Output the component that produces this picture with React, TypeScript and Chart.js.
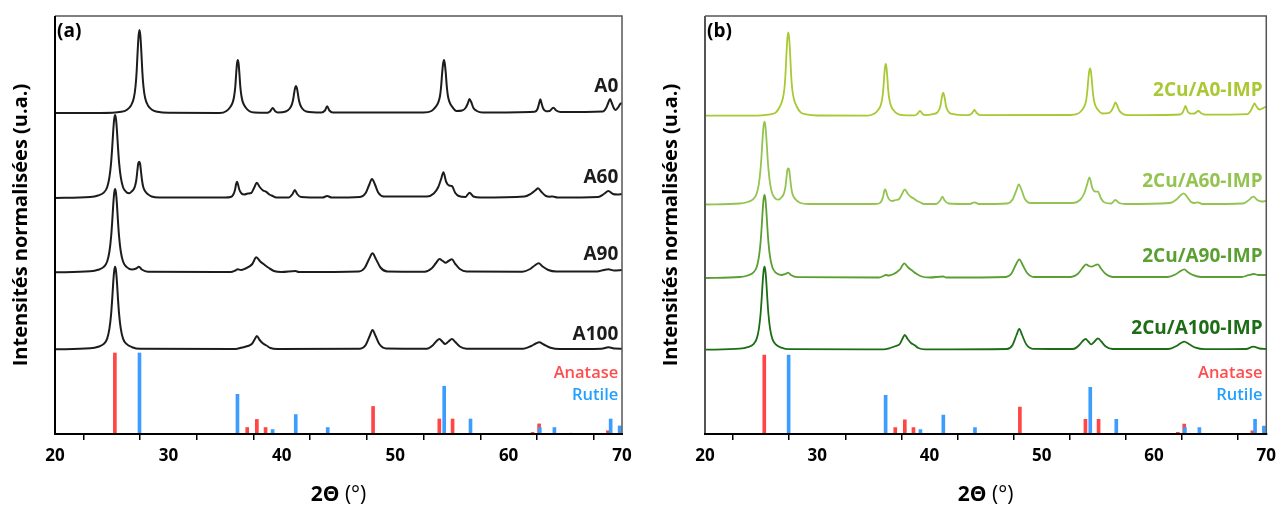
import React, { useEffect, useRef } from "react";
import { Chart, registerables } from "chart.js";

Chart.register(...registerables);

const FONT = "'Open Sans', 'DejaVu Sans', sans-serif";

// ---------- axes ----------
const X_MIN = 20;
const X_MAX = 70;
const X_STEP = 5;
const Y_MAX = 418;
const X_TICK_LABEL_EVERY = 10;

// ---------- reference patterns (2θ, relative intensity %) ----------
const ANATASE_REF = [
  [25.28, 100], [36.95, 8], [37.8, 18], [38.57, 8], [48.05, 34],
  [53.89, 18.5], [55.06, 18.5], [62.12, 2], [62.69, 12.5], [68.76, 4],
];
const RUTILE_REF = [
  [27.45, 100], [36.09, 49], [39.19, 5.5], [41.23, 24], [44.05, 8],
  [54.32, 59], [56.64, 18.5], [62.75, 8], [64.04, 8], [65.48, 1],
  [69.0, 18.5], [69.79, 10],
];
const STICK_MAX_A = 81;
const STICK_MAX_B = 79;

// ---------- panel (a) curves: [2θ, stacked intensity] ----------
const A0 = [
  [20, 321], [24, 321], [25.85, 322.2], [26.35, 324.3], [26.7, 328.5], [26.95, 336], [27.1, 347.5], [27.2, 362.5],
  [27.29, 383], [27.37, 398], [27.45, 404], [27.53, 398], [27.61, 383], [27.7, 362.5], [27.8, 347.5], [27.95, 336],
  [28.2, 328.5], [28.55, 324.3], [29.05, 322.2], [30, 321.2], [34.5, 321], [35.12, 323], [35.44, 326.8], [35.67, 331.6],
  [35.8, 338], [35.9, 347.5], [35.98, 360.8], [36.05, 370.3], [36.12, 374], [36.19, 370.3], [36.26, 360.8], [36.34, 347.5],
  [36.44, 338], [36.57, 331.6], [36.8, 326.8], [37.12, 323], [37.6, 321.5], [38.75, 321.3], [39.0, 323], [39.2, 326],
  [39.4, 323], [39.65, 321.5], [40.35, 322.5], [40.7, 325.5], [40.89, 329.6], [41.0, 334.5], [41.09, 341], [41.17, 346],
  [41.25, 348], [41.33, 346], [41.41, 341], [41.5, 334.5], [41.61, 329.6], [41.8, 325.5], [42.15, 322.5], [43.5, 321.5],
  [43.8, 323.5], [44.0, 327.7], [44.2, 323.5], [44.5, 321.5], [52.5, 321.5], [53.2, 323], [53.55, 326.8], [53.8, 331.6],
  [53.95, 338], [54.05, 347.5], [54.14, 360.8], [54.22, 370], [54.3, 374], [54.38, 370], [54.46, 360.8], [54.55, 347.5],
  [54.65, 338], [54.8, 331.6], [55.05, 326.8], [55.4, 323], [55.9, 323.5], [56.2, 326], [56.4, 330.5], [56.55, 335],
  [56.7, 332], [56.9, 326], [57.2, 323], [57.7, 321.5], [62.3, 322.3], [62.55, 325], [62.7, 331], [62.8, 334.7],
  [62.9, 331], [63.05, 325.5], [63.3, 322.8], [63.6, 323], [63.95, 326.3], [64.2, 323.5], [64.6, 322], [68.3, 322.5],
  [68.6, 326], [68.8, 331.5], [68.95, 335], [69.1, 331], [69.3, 325.5], [69.45, 324], [69.65, 326.5], [69.85, 330],
  [70, 331],
];
const A60 = [
  [20, 236], [23.1, 237], [23.8, 238.5], [24.3, 241.4], [24.6, 246.8], [24.8, 256.8], [24.95, 271.7], [25.05, 287.5],
  [25.14, 304], [25.22, 314.9], [25.3, 319], [25.38, 314.9], [25.46, 304], [25.55, 287.5], [25.65, 271.7], [25.8, 256.8],
  [26.0, 246.8], [26.3, 241.8], [26.55, 240.8], [26.8, 243], [26.95, 245], [27.07, 248.5], [27.17, 254], [27.26, 263],
  [27.34, 270.5], [27.42, 272.3], [27.5, 270.5], [27.58, 263], [27.67, 254], [27.77, 247.5], [27.92, 243.2], [28.17, 240],
  [28.52, 237.5], [29.2, 236.5], [35.0, 236.5], [35.5, 237], [35.75, 240], [35.88, 244.5], [35.97, 250], [36.05, 252.3],
  [36.13, 250], [36.25, 244.5], [36.45, 240.5], [36.7, 239.5], [37.0, 240.5], [37.3, 241], [37.55, 246], [37.8, 251.3],
  [38.05, 247], [38.35, 243.5], [38.6, 242.3], [38.9, 239.5], [39.2, 238], [39.5, 236.5], [40.6, 236.5], [40.95, 240],
  [41.15, 244], [41.35, 240], [41.7, 237], [43.6, 236.5], [44.0, 238], [44.4, 236.5], [46.9, 237], [47.4, 241],
  [47.7, 249], [47.95, 255], [48.2, 250], [48.5, 241.5], [49.0, 237.5], [52.8, 237.5], [53.4, 240.5], [53.8, 247],
  [54.05, 255], [54.25, 261.7], [54.5, 252], [54.75, 248.5], [55.0, 248], [55.3, 241], [55.6, 238], [56.2, 237],
  [56.55, 241.3], [56.9, 237.5], [57.5, 236.5], [61.4, 237.5], [62.0, 240.5], [62.4, 244], [62.6, 245.7], [62.9, 242],
  [63.3, 238], [63.6, 237.3], [63.9, 237.5], [64.3, 236.5], [67.9, 237], [68.4, 240], [68.8, 243], [69.2, 240],
  [69.6, 239.5], [70, 240],
];
const A90 = [
  [20, 161.7], [23.1, 162.7], [23.8, 164.2], [24.3, 167.1], [24.6, 172.5], [24.8, 182.5], [24.95, 197.5], [25.05, 213.3],
  [25.14, 230], [25.22, 240.8], [25.3, 245], [25.38, 240.8], [25.46, 230], [25.55, 213.3], [25.65, 197.5], [25.8, 182.5],
  [26.0, 172.5], [26.3, 167.1], [26.8, 164.5], [27.15, 165.5], [27.4, 167.3], [27.65, 164.5], [28.2, 162.3], [35.5, 162],
  [35.9, 163.5], [36.1, 164.7], [36.4, 164], [36.8, 165.5], [37.1, 167.3], [37.4, 170], [37.75, 176.7], [38.1, 172.5],
  [38.5, 169], [38.8, 166.5], [39.3, 163], [40, 162], [41.2, 163], [41.5, 162], [46.8, 162.5], [47.3, 166],
  [47.7, 175], [48.0, 180.7], [48.3, 175], [48.7, 166.5], [49.3, 162.5], [52.6, 162.3], [53.2, 165.5], [53.6, 171],
  [53.9, 175], [54.2, 173], [54.45, 171.3], [54.7, 173], [55.0, 174.7], [55.3, 170], [55.7, 165], [56.3, 162.5],
  [61.2, 162.3], [61.9, 165], [62.3, 168.5], [62.65, 170.7], [63.0, 167.5], [63.5, 164], [64.2, 162.5], [67.8, 162.5],
  [68.4, 164], [68.8, 164.7], [69.3, 163.5], [70, 164],
];
const A100 = [
  [20, 84.7], [23.1, 85.7], [23.8, 87.2], [24.3, 90.1], [24.6, 95.4], [24.8, 105.4], [24.95, 120.2], [25.05, 135.9],
  [25.14, 152.4], [25.22, 163.2], [25.3, 167.3], [25.38, 163.2], [25.46, 152.4], [25.55, 135.9], [25.65, 120.2], [25.8, 105.4],
  [26.0, 95.4], [26.3, 90.1], [26.8, 86.8], [27.5, 85.2], [35.9, 85], [36.5, 86.5], [37.0, 88], [37.35, 90],
  [37.6, 94.5], [37.8, 98], [38.05, 94], [38.35, 90.5], [38.65, 88.5], [39.0, 86], [39.6, 85], [46.9, 85.3],
  [47.4, 89], [47.75, 98], [48.0, 104], [48.25, 98.5], [48.6, 90], [49.2, 85.5], [52.8, 85.3], [53.3, 88.5],
  [53.65, 93], [53.9, 95], [54.15, 92.5], [54.4, 90], [54.7, 92.5], [55.0, 95], [55.3, 92], [55.7, 87.5],
  [56.3, 85.3], [61.3, 85.3], [62.0, 88], [62.4, 90.5], [62.7, 91.7], [63.1, 89.5], [63.7, 86.3], [64.5, 85],
  [68.2, 85.3], [68.8, 86.7], [69.4, 85.5], [70, 85.3],
];

// ---------- panel (b) curves ----------
const CU_A0 = [
  [20, 318.3], [24, 318.3], [25.82, 319.6], [26.32, 321.6], [26.67, 327.5], [26.92, 335], [27.07, 345], [27.17, 360],
  [27.26, 380.9], [27.34, 395.9], [27.42, 401.7], [27.5, 395.9], [27.58, 380.9], [27.67, 360], [27.77, 345], [27.92, 335],
  [28.17, 327.5], [28.52, 321.6], [29.02, 319.6], [30, 318.5], [34.5, 318.4], [35.1, 320.4], [35.42, 324], [35.65, 328.6],
  [35.78, 334.8], [35.88, 344.2], [35.96, 357.1], [36.03, 366.4], [36.1, 370], [36.17, 366.4], [36.24, 357.1], [36.32, 344.2],
  [36.42, 334.8], [36.55, 328.6], [36.78, 324], [37.1, 320.4], [37.6, 318.8], [38.7, 318.6], [38.95, 320.5], [39.15, 323],
  [39.35, 320.5], [39.6, 318.8], [40.32, 319.9], [40.67, 321.3], [40.86, 324.3], [40.97, 328], [41.06, 334.2], [41.14, 339],
  [41.22, 341.3], [41.3, 339], [41.38, 334.2], [41.47, 328], [41.58, 324.3], [41.77, 321.3], [42.12, 319.9], [43.5, 318.8],
  [43.8, 321], [44.0, 324], [44.2, 321], [44.5, 318.8], [52.5, 319], [53.2, 320.2], [53.55, 323.5], [53.8, 327.8],
  [53.95, 333.5], [54.05, 342], [54.14, 353.9], [54.22, 362.4], [54.3, 365.7], [54.38, 362.4], [54.46, 353.9], [54.55, 342],
  [54.65, 333.5], [54.8, 327.8], [55.05, 323.5], [55.4, 320.5], [55.9, 320.8], [56.2, 323], [56.4, 327.5], [56.55, 331.7],
  [56.7, 329], [56.9, 323.5], [57.2, 320.2], [57.7, 318.8], [62.3, 319.5], [62.55, 321.5], [62.7, 325.5], [62.8, 328],
  [62.9, 325.5], [63.05, 321.8], [63.3, 320.3], [63.6, 320.5], [63.95, 323], [64.2, 320.8], [64.6, 319.3], [68.3, 319.8],
  [68.6, 323], [68.8, 327.5], [68.95, 330.7], [69.1, 328], [69.3, 325], [69.45, 324.5], [69.65, 325.5], [69.85, 326.8],
  [70, 327.3],
];
const CU_A60 = [
  [20, 229.5], [23.1, 230.5], [23.8, 232], [24.3, 234.9], [24.6, 240.3], [24.8, 250.2], [24.95, 265.1], [25.05, 280.8],
  [25.14, 297.4], [25.22, 308.2], [25.3, 312.3], [25.38, 308.2], [25.46, 297.4], [25.55, 280.8], [25.65, 265.1], [25.8, 250.2],
  [26.0, 240.3], [26.3, 235.2], [26.55, 234.3], [26.8, 236.5], [26.95, 238.5], [27.07, 242], [27.17, 247.5], [27.26, 256.5],
  [27.34, 264], [27.42, 265.7], [27.5, 264], [27.58, 256.5], [27.67, 247.5], [27.77, 241], [27.92, 236.7], [28.17, 233.5],
  [28.52, 231], [29.2, 230], [35.0, 230], [35.5, 230.5], [35.75, 233.5], [35.88, 238], [35.97, 243], [36.05, 244.7],
  [36.13, 243], [36.25, 238], [36.45, 234], [36.7, 233], [37.0, 234], [37.3, 235], [37.55, 240], [37.8, 244.7],
  [38.05, 240.5], [38.35, 237], [38.6, 235.5], [38.9, 233], [39.2, 231.5], [39.5, 230], [40.6, 230], [40.95, 233.5],
  [41.15, 237.3], [41.35, 233.5], [41.7, 230.5], [43.6, 230], [44.0, 231.7], [44.4, 230], [46.9, 230.5], [47.4, 234.5],
  [47.75, 244], [47.95, 249.7], [48.2, 244], [48.5, 235], [49.0, 231], [52.8, 231], [53.4, 234], [53.8, 241],
  [54.05, 250], [54.25, 256.7], [54.5, 246], [54.75, 242.5], [55.0, 242.3], [55.3, 235], [55.6, 231.5], [56.2, 230.5],
  [56.55, 234], [56.9, 231], [57.5, 230], [61.4, 231], [62.0, 234.5], [62.4, 239], [62.65, 240.7], [62.95, 237],
  [63.3, 232], [63.6, 231], [63.9, 231.7], [64.3, 230], [67.9, 230.5], [68.4, 233.5], [68.85, 237.3], [69.2, 234],
  [69.6, 232.5], [70, 233.3],
];
const CU_A90 = [
  [20, 156], [23.1, 157], [23.8, 158.5], [24.3, 161.4], [24.6, 166.8], [24.8, 176.8], [24.95, 191.7], [25.05, 207.5],
  [25.14, 224.1], [25.22, 234.9], [25.3, 239], [25.38, 234.9], [25.46, 224.1], [25.55, 207.5], [25.65, 191.7], [25.8, 176.8],
  [26.0, 166.8], [26.3, 161.4], [26.8, 159], [27.15, 160], [27.4, 161.3], [27.65, 159], [28.2, 156.8], [35.5, 156.5],
  [35.9, 158], [36.1, 159], [36.4, 158.5], [36.8, 160], [37.1, 162], [37.4, 165], [37.75, 170.7], [38.1, 166.5],
  [38.5, 163], [38.8, 160.5], [39.3, 157.5], [40, 156.5], [41.2, 157.5], [41.5, 156.5], [46.8, 157], [47.3, 160.5],
  [47.7, 169.5], [48.0, 174.7], [48.3, 169], [48.7, 161], [49.3, 157], [52.6, 157], [53.2, 160], [53.6, 165.5],
  [53.95, 169.7], [54.2, 168], [54.45, 167.3], [54.7, 168.5], [55.0, 169.7], [55.3, 165], [55.7, 160], [56.3, 157],
  [61.2, 157], [61.9, 159.5], [62.3, 162.5], [62.7, 164.7], [63.0, 162], [63.5, 158.8], [64.2, 157], [67.8, 157],
  [68.4, 158.8], [68.9, 160], [69.3, 159], [70, 159],
];
const CU_A100 = [
  [20, 84.3], [23.1, 85.3], [23.8, 86.8], [24.3, 89.7], [24.6, 95.1], [24.8, 105.1], [24.95, 120], [25.05, 135.8],
  [25.14, 152.4], [25.22, 163.2], [25.3, 167.3], [25.38, 163.2], [25.46, 152.4], [25.55, 135.8], [25.65, 120], [25.8, 105.1],
  [26.0, 95.1], [26.3, 89.7], [26.8, 86.4], [27.5, 84.8], [35.9, 84.6], [36.5, 86], [37.0, 88], [37.35, 90],
  [37.6, 95.5], [37.8, 99], [38.05, 95], [38.35, 91], [38.65, 89], [39.0, 86], [39.6, 84.6], [46.9, 85],
  [47.4, 89], [47.75, 99], [48.0, 105], [48.25, 99], [48.6, 90], [49.2, 85.2], [52.8, 85], [53.3, 88.5],
  [53.65, 93], [53.9, 95], [54.15, 92.5], [54.4, 89.7], [54.7, 92.5], [55.0, 95.7], [55.3, 92.5], [55.7, 87.5],
  [56.3, 85], [61.3, 85], [62.0, 88], [62.4, 91], [62.7, 92.3], [63.1, 90], [63.7, 86.3], [64.5, 84.8],
  [68.2, 85], [68.85, 87.3], [69.4, 85.5], [70, 85],
];

// ---------- labels ----------
const NAMES_A = ["A0", "A60", "A90", "A100"];
const NAMES_B = ["2Cu/A0-IMP", "2Cu/A60-IMP", "2Cu/A90-IMP", "2Cu/A100-IMP"];
const LABEL_Y_A = [347, 256.3, 179, 99];
const LABEL_Y_B = [343.3, 252.3, 177.3, 105.7];
const REF_NAMES = ["Anatase", "Rutile"];
const REF_LABEL_Y = [60.7, 38.3];
const LABEL_X = 69.67;

const COLORS_A = ["#1c1c1c", "#1c1c1c", "#1c1c1c", "#1c1c1c"];
const COLORS_B = ["#a8c934", "#93c451", "#5b9f33", "#1c6d16"];
const ANATASE_COLOR = "#ff4545";
const RUTILE_COLOR = "#3d9dff";
const ANATASE_TEXT = "#ff4d4d";
const RUTILE_TEXT = "#22a0ff";

type Panel = {
  left: number;
  width: number;
  padRight: number;
  tag: string;
  curves: number[][][];
  names: string[];
  labelY: number[];
  colors: string[];
  lineWidth: number;
  stickMax: number;
  leftAxisColor: string;
};

const PANEL_A: Panel = {
  left: 0, width: 650, padRight: 28, tag: "(a)",
  curves: [A0, A60, A90, A100], names: NAMES_A, labelY: LABEL_Y_A,
  colors: COLORS_A, lineWidth: 2, stickMax: STICK_MAX_A, leftAxisColor: "#000",
};
const PANEL_B: Panel = {
  left: 650, width: 632, padRight: 10, tag: "(b)",
  curves: [CU_A0, CU_A60, CU_A90, CU_A100], names: NAMES_B, labelY: LABEL_Y_B,
  colors: COLORS_B, lineWidth: 1.8, stickMax: STICK_MAX_B, leftAxisColor: "#555",
};

const HEIGHT = 507;

function makeConfig(p: Panel): any {
  const datasets: any[] = p.curves.map((c, i) => ({
    type: "line",
    data: c.map(([x, y]) => ({ x, y })),
    borderColor: p.colors[i],
    borderWidth: p.lineWidth,
    pointRadius: 0,
    cubicInterpolationMode: "monotone",
    fill: false,
    order: 0,
  }));
  datasets.push({
    type: "bar",
    data: RUTILE_REF.map(([x, r]) => ({ x, y: (r * p.stickMax) / 100 })),
    backgroundColor: RUTILE_COLOR,
    barThickness: 3,
    grouped: false,
    order: 1,
  });
  datasets.push({
    type: "bar",
    data: ANATASE_REF.map(([x, r]) => ({ x, y: (r * p.stickMax) / 100 })),
    backgroundColor: ANATASE_COLOR,
    barThickness: 3,
    grouped: false,
    order: 2,
  });

  const decor = {
    id: "decor",
    afterDraw(chart: any) {
      const { ctx, chartArea: a, scales } = chart;
      const xs = scales.x;
      const ys = scales.y;
      ctx.save();
      ctx.strokeStyle = "#555";
      ctx.lineWidth = 1.5;
      ctx.beginPath();
      ctx.moveTo(a.left, a.top);
      ctx.lineTo(a.right, a.top);
      ctx.lineTo(a.right, a.bottom);
      ctx.stroke();
      ctx.strokeStyle = p.leftAxisColor;
      ctx.lineWidth = 2;
      ctx.beginPath();
      ctx.moveTo(a.left, a.top);
      ctx.lineTo(a.left, a.bottom);
      ctx.stroke();
      ctx.strokeStyle = "#000";
      ctx.beginPath();
      ctx.moveTo(a.left - 1, a.bottom);
      ctx.lineTo(a.right + 1, a.bottom);
      ctx.stroke();

      ctx.textAlign = "right";
      ctx.textBaseline = "middle";
      ctx.font = `bold 19px ${FONT}`;
      const lx = xs.getPixelForValue(LABEL_X);
      p.names.forEach((n, i) => {
        ctx.fillStyle = p.colors[i];
        ctx.fillText(n, lx, ys.getPixelForValue(p.labelY[i]));
      });
      ctx.font = `600 16.5px ${FONT}`;
      ctx.fillStyle = ANATASE_TEXT;
      ctx.fillText(REF_NAMES[0], lx, ys.getPixelForValue(REF_LABEL_Y[0]));
      ctx.fillStyle = RUTILE_TEXT;
      ctx.fillText(REF_NAMES[1], lx, ys.getPixelForValue(REF_LABEL_Y[1]));

      ctx.textAlign = "left";
      ctx.fillStyle = "#000";
      ctx.font = `bold 19px ${FONT}`;
      ctx.fillText(p.tag, a.left + 2, a.top + 16);

      const t1 = "2Θ";
      const t2 = " (°)";
      ctx.font = `bold 21px ${FONT}`;
      const w1 = ctx.measureText(t1).width;
      ctx.font = `21px ${FONT}`;
      const w2 = ctx.measureText(t2).width;
      const cx = (a.left + a.right) / 2;
      const sx = cx - (w1 + w2) / 2;
      const ty = 495;
      ctx.font = `bold 21px ${FONT}`;
      ctx.fillText(t1, sx, ty);
      ctx.font = `21px ${FONT}`;
      ctx.fillText(t2, sx + w1, ty);
      ctx.restore();
    },
  };

  return {
    type: "line",
    data: { datasets },
    plugins: [decor],
    options: {
      responsive: false,
      animation: false,
      layout: { padding: { top: 16, right: p.padRight, left: 0, bottom: 0 } },
      plugins: { legend: { display: false }, tooltip: { enabled: false } },
      scales: {
        x: {
          type: "linear",
          min: X_MIN,
          max: X_MAX,
          offset: false,
          ticks: {
            stepSize: X_STEP,
            autoSkip: false,
            maxRotation: 0,
            padding: 6,
            color: "#000",
            font: { family: FONT, size: 17, weight: "bold" },
            callback: (v: number) => (v % X_TICK_LABEL_EVERY === 0 ? String(v) : ""),
          },
          grid: {
            display: true,
            drawOnChartArea: false,
            drawTicks: true,
            tickLength: 6,
            color: "#000",
            lineWidth: 1.5,
          },
          border: { display: false },
          afterFit: (s: any) => {
            s.height = 73;
          },
        },
        y: {
          type: "linear",
          min: 0,
          max: Y_MAX,
          ticks: { display: false },
          grid: { display: false },
          border: { display: false },
          title: {
            display: true,
            text: "Intensités normalisées (u.a.)",
            color: "#000",
            font: { family: FONT, size: 20, weight: "bold" },
            padding: { top: 9, bottom: 0 },
          },
          afterFit: (s: any) => {
            s.width = 55;
          },
        },
      },
    },
  };
}

function PanelChart({ p }: { p: Panel }) {
  const ref = useRef<HTMLCanvasElement | null>(null);
  useEffect(() => {
    if (!ref.current) return;
    const chart = new Chart(ref.current, makeConfig(p));
    return () => chart.destroy();
  }, [p]);
  return (
    <canvas
      ref={ref}
      width={p.width}
      height={HEIGHT}
      style={{ position: "absolute", left: p.left, top: 0, width: p.width, height: HEIGHT }}
    />
  );
}

export default function App() {
  return (
    <div style={{ position: "absolute", left: 0, top: 0, width: 1282, height: HEIGHT, background: "#fff" }}>
      <PanelChart p={PANEL_A} />
      <PanelChart p={PANEL_B} />
    </div>
  );
}
